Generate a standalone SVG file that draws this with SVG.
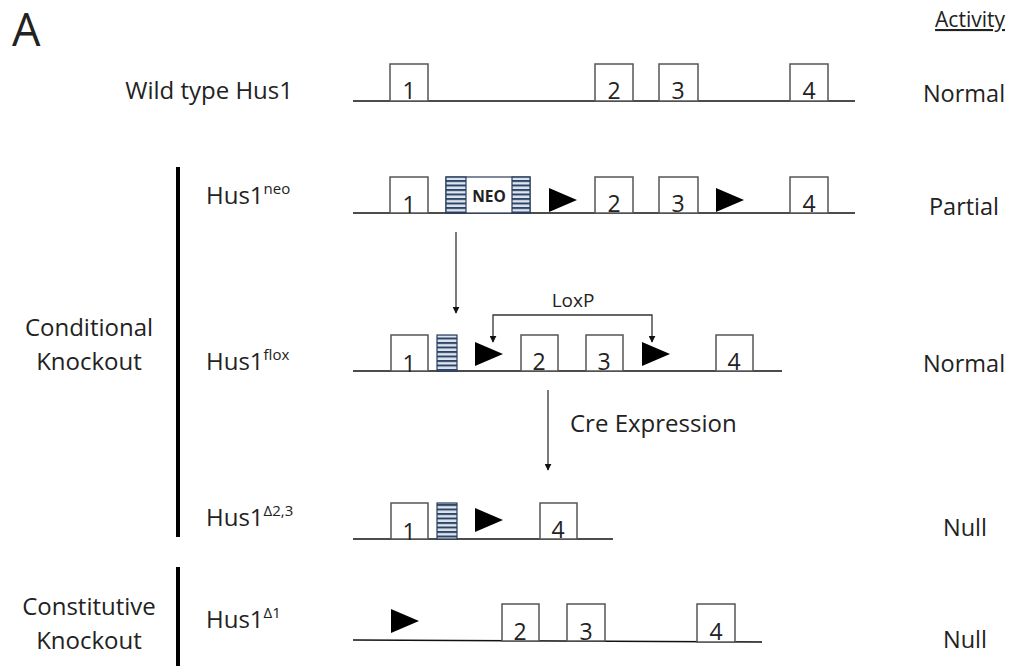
<svg xmlns="http://www.w3.org/2000/svg" width="1011" height="666" viewBox="0 0 1011 666">
<defs>
<style>
.t{font-family:"Open Sans","Liberation Sans",sans-serif;fill:#222;}
.lab{font-size:24px;}
.sup{font-size:15px;}
.num{font-size:23px;text-anchor:middle;}
.act{font-size:23.5px;text-anchor:middle;}
.ex{fill:#fff;stroke:#555;stroke-width:1.5;}
.dna{stroke:#111;stroke-width:1.5;fill:none;}
.bar{stroke:#000;stroke-width:4;}
.conn{stroke:#333;stroke-width:1.3;fill:none;}
.stripe{fill:url(#str);stroke:#2a3d5c;stroke-width:1.2;}
</style>
<pattern id="str" patternUnits="userSpaceOnUse" width="20" height="4.5">
<rect width="20" height="4.5" fill="#dde6f0"/>
<rect width="20" height="2" y="0" fill="#2f4566"/>
</pattern>
<marker id="ah" viewBox="0 0 10 10" refX="9" refY="5" markerWidth="7" markerHeight="7" markerUnits="userSpaceOnUse" orient="auto-start-reverse">
<path d="M0,0 L10,5 L0,10 z" fill="#111"/>
</marker>
<path id="tri" d="M0,-12 L28,0 L0,12 z" fill="#000"/>
</defs>

<g id="labels">
<text class="t" x="12" y="46" font-size="45">A</text>
<text class="t" x="1005" y="27" font-size="21" text-anchor="end" text-decoration="underline">Activity</text>
</g>

<g id="row-wt">
<text class="t lab" x="293" y="99" text-anchor="end">Wild type Hus1</text>
<line class="dna" x1="353" y1="101" x2="855" y2="101"/>
<rect class="ex" x="390" y="64" width="38" height="37"/><text class="t num" x="409" y="99">1</text>
<rect class="ex" x="595" y="64" width="38" height="37"/><text class="t num" x="614" y="99">2</text>
<rect class="ex" x="659" y="64" width="39" height="37"/><text class="t num" x="678" y="99">3</text>
<rect class="ex" x="790" y="64" width="38" height="37"/><text class="t num" x="809" y="99">4</text>
<text class="t act" x="964" y="102">Normal</text>
</g>

<g id="group-conditional">
<line class="bar" x1="178" y1="167" x2="178" y2="537"/>
<text class="t lab" x="89" y="336" text-anchor="middle">Conditional</text>
<text class="t lab" x="89" y="370" text-anchor="middle">Knockout</text>
</g>

<g id="row-neo">
<text class="t lab" x="206" y="204">Hus1<tspan class="sup" dy="-10">neo</tspan></text>
<line class="dna" x1="353" y1="213" x2="855" y2="213"/>
<rect class="ex" x="390" y="177" width="38" height="36"/><text class="t num" x="409" y="213">1</text>
<rect x="446" y="177" width="84" height="36" fill="#fff" stroke="#2a3d5c" stroke-width="1.2"/>
<rect class="stripe" x="446" y="177" width="20" height="36"/>
<rect class="stripe" x="512" y="177" width="18" height="36"/>
<text class="t" x="489" y="202" font-size="15.5" font-weight="bold" text-anchor="middle" fill="#111">NEO</text>
<use href="#tri" x="549" y="200"/>
<rect class="ex" x="595" y="177" width="38" height="36"/><text class="t num" x="614" y="212">2</text>
<rect class="ex" x="659" y="177" width="39" height="36"/><text class="t num" x="678" y="212">3</text>
<use href="#tri" x="716" y="200"/>
<rect class="ex" x="790" y="177" width="38" height="36"/><text class="t num" x="809" y="212">4</text>
<text class="t act" x="964" y="215">Partial</text>
</g>

<g id="row-flox">
<text class="t lab" x="206" y="370">Hus1<tspan class="sup" dy="-10">flox</tspan></text>
<line class="dna" x1="353" y1="371" x2="782" y2="371"/>
<rect class="ex" x="391" y="335" width="37" height="36"/><text class="t num" x="409" y="372">1</text>
<rect class="stripe" x="437" y="335" width="20" height="36"/>
<use href="#tri" x="475" y="354"/>
<rect class="ex" x="521" y="335" width="37" height="36"/><text class="t num" x="539" y="370">2</text>
<rect class="ex" x="586" y="335" width="37" height="36"/><text class="t num" x="604" y="370">3</text>
<use href="#tri" x="642" y="354"/>
<rect class="ex" x="716" y="335" width="37" height="36"/><text class="t num" x="734" y="370">4</text>
<text class="t act" x="964" y="372">Normal</text>
<text class="t" x="573" y="307" font-size="19" text-anchor="middle">LoxP</text>
</g>

<g id="row-d23">
<text class="t lab" x="206" y="526">Hus1<tspan class="sup" dy="-10">Δ2,3</tspan></text>
<line class="dna" x1="353" y1="539" x2="613" y2="539"/>
<rect class="ex" x="391" y="503" width="37" height="36"/><text class="t num" x="409" y="540">1</text>
<rect class="stripe" x="437" y="503" width="20" height="36"/>
<use href="#tri" x="475" y="520"/>
<rect class="ex" x="540" y="503" width="37" height="36"/><text class="t num" x="558" y="538">4</text>
<text class="t act" x="965" y="536">Null</text>
</g>

<g id="group-constitutive">
<line class="bar" x1="178" y1="567" x2="178" y2="666"/>
<text class="t lab" x="89" y="615" text-anchor="middle">Constitutive</text>
<text class="t lab" x="89" y="649" text-anchor="middle">Knockout</text>
</g>

<g id="row-d1">
<text class="t lab" x="206" y="628">Hus1<tspan class="sup" dy="-10">Δ1</tspan></text>
<line class="dna" x1="353" y1="640" x2="762" y2="642"/>
<use href="#tri" x="391" y="621"/>
<rect class="ex" x="502" y="604" width="37" height="37"/><text class="t num" x="520" y="640">2</text>
<rect class="ex" x="567" y="604" width="38" height="37"/><text class="t num" x="586" y="640">3</text>
<rect class="ex" x="697" y="604" width="38" height="38"/><text class="t num" x="716" y="640">4</text>
<text class="t act" x="965" y="648">Null</text>
</g>

<g id="connectors">
<line class="conn" x1="456" y1="232" x2="456" y2="313" marker-end="url(#ah)"/>
<path class="conn" d="M493,342 L493,315 L652,315 L652,342" marker-start="url(#ah)" marker-end="url(#ah)"/>
<line class="conn" x1="548" y1="390" x2="548" y2="470" marker-end="url(#ah)"/>
<text class="t lab" x="570" y="432">Cre Expression</text>
</g>
</svg>
